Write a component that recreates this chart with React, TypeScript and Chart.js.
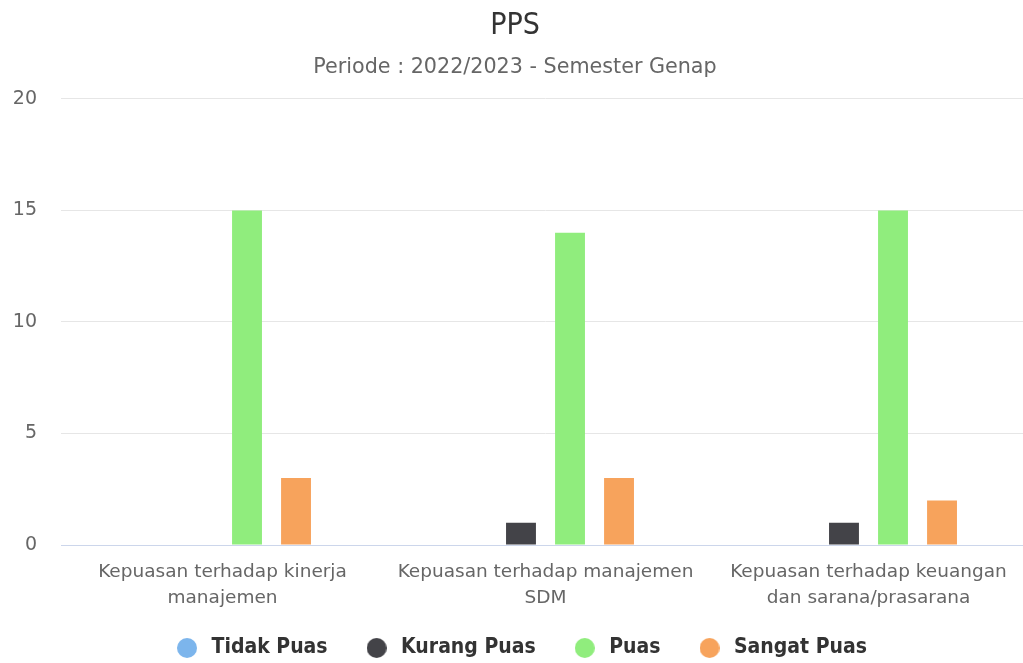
import React, { useEffect, useRef } from "react";
import { Chart, registerables } from "chart.js";

Chart.register(...registerables);

const categories: string[][] = [
  ["Kepuasan terhadap kinerja", "manajemen"],
  ["Kepuasan terhadap manajemen", "SDM"],
  ["Kepuasan terhadap keuangan", "dan sarana/prasarana"],
];
const seriesNames = ["Tidak Puas", "Kurang Puas", "Puas", "Sangat Puas"];
const tidakPuas = [0, 0, 0];
const kurangPuas = [0, 1, 1];
const puas = [15, 14, 15];
const sangatPuas = [3, 3, 2];
const seriesColors = ["#7cb5ec", "#434348", "#90ed7d", "#f7a35c"];
const yMin = 0;
const yMax = 20;
const yStep = 5;

const FONT = "'DejaVu Sans', Verdana, sans-serif";
const CONDENSED = "'DejaVu Sans Condensed', 'DejaVu Sans', sans-serif";

function circleImage(color: string, d: number) {
  const c = document.createElement("canvas");
  c.width = d;
  c.height = d;
  const ctx = c.getContext("2d")!;
  ctx.fillStyle = color;
  ctx.beginPath();
  ctx.arc(d / 2, d / 2, d / 2, 0, Math.PI * 2);
  ctx.fill();
  return c;
}

const legendFix = {
  id: "legendFix",
  beforeLayout(chart: any) {
    const lg = chart.legend;
    if (lg && !lg.__patched) {
      const origFit = lg.fit.bind(lg);
      lg.fit = function () {
        origFit();
        this.height -= 10;
      };
      const origDraw = lg.draw.bind(lg);
      lg.draw = function (...args: any[]) {
        const ctx = this.ctx;
        ctx.save();
        ctx.translate(5, 0);
        origDraw(...args);
        ctx.restore();
      };
      lg.__patched = true;
    }
  },
};

export default function App() {
  const ref = useRef<HTMLCanvasElement>(null);
  useEffect(() => {
    document.body.style.margin = "0";
    document.body.style.overflow = "hidden";
    const values = [tidakPuas, kurangPuas, puas, sangatPuas];
    const chart = new Chart(ref.current!, {
      type: "bar",
      data: {
        labels: categories,
        datasets: seriesNames.map((name, i) => ({
          label: name,
          data: values[i],
          backgroundColor: seriesColors[i],
          borderWidth: 0,
          categoryPercentage: 0.607,
          barPercentage: 0.61,
          pointStyle: circleImage(seriesColors[i], 20),
        })),
      },
      plugins: [legendFix],
      options: {
        responsive: false,
        animation: false,
        layout: { padding: { left: 0, right: 0, top: 0, bottom: 4.5 } },
        plugins: {
          title: {
            display: true,
            text: "PPS",
            color: "#333333",
            font: { family: CONDENSED, size: 30, weight: "normal" },
            padding: { top: 8, bottom: 11 },
          },
          subtitle: {
            display: true,
            text: "Periode : 2022/2023 - Semester Genap",
            color: "#666666",
            font: { family: FONT, size: 20.7, weight: "normal" },
            padding: { top: 0, bottom: 19 },
          },
          legend: {
            position: "bottom",
            labels: {
              usePointStyle: true,
              pointStyleWidth: 28,
              boxHeight: 21,
              padding: 35,
              color: "#333333",
              font: { family: CONDENSED, size: 21, weight: "bold" },
            },
          },
          tooltip: { enabled: false },
        },
        scales: {
          x: {
            grid: { display: false },
            border: { display: true, color: "#ccd6eb" },
            afterFit: (s: any) => {
              s.height = 57.5;
              s._computeLabelArea = () => undefined;
            },
            ticks: {
              color: "#666666",
              font: { family: FONT, size: 18.5, lineHeight: 1.41 },
              padding: 6,
              maxRotation: 0,
              autoSkip: false,
            },
          },
          y: {
            min: yMin,
            max: yMax,
            grid: { color: "#e6e6e6", drawTicks: false },
            border: { display: false },
            afterFit: (s: any) => {
              s.width = 61;
            },
            ticks: {
              stepSize: yStep,
              color: "#666666",
              font: { family: FONT, size: 19 },
              padding: 24,
            },
          },
        },
      },
    });
    return () => chart.destroy();
  }, []);
  return (
    <div style={{ position: "absolute", left: 0, top: 0, width: 1030, height: 663 }}>
      <canvas ref={ref} width={1030} height={663} />
    </div>
  );
}
